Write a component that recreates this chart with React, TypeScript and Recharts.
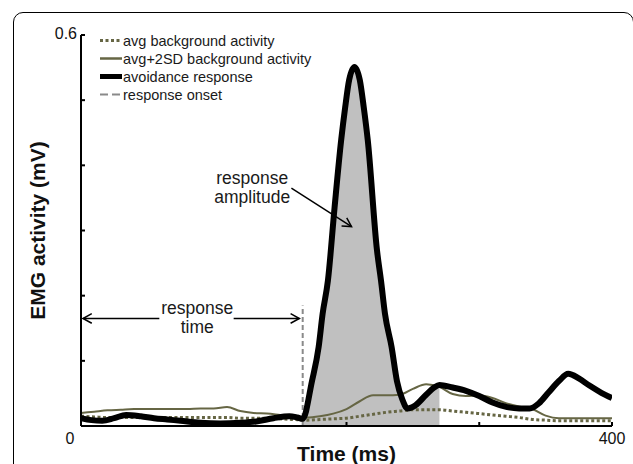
import { ComposedChart, Line, Area, XAxis, YAxis, ReferenceLine, ReferenceDot, Legend, Label } from "recharts"

// avoidance response (mV) sampled at uneven times (ms)
const respTime = [
  0, 8, 16, 25, 34, 45, 55, 65, 75, 90, 105, 120, 132, 145, 157, 163, 167, 174, 179, 182, 186, 191, 196, 199,
  202, 206, 210, 213, 216, 223, 226, 229, 234, 238, 242, 246, 252, 260, 266, 270, 280, 290, 300, 310, 321, 330,
  338, 345, 352, 360, 367, 375, 383, 392, 400,
]
const respValue = [
  0.012, 0.009, 0.008, 0.012, 0.017, 0.015, 0.012, 0.01, 0.008, 0.005, 0.004, 0.005, 0.007, 0.012, 0.015, 0.013,
  0.011, 0.069, 0.121, 0.172, 0.223, 0.335, 0.439, 0.489, 0.531, 0.551, 0.531, 0.489, 0.439, 0.269, 0.223, 0.172,
  0.121, 0.069, 0.041, 0.027, 0.032, 0.048, 0.059, 0.063, 0.059, 0.054, 0.046, 0.036, 0.029, 0.027, 0.027, 0.035,
  0.051, 0.069, 0.08, 0.073, 0.062, 0.051, 0.043,
]

// background activity, every 10 ms
const bgTime = [
  0, 10, 20, 30, 40, 50, 60, 70, 80, 90, 100, 110, 120, 130, 140, 150, 160, 170, 180, 190, 200, 210, 220, 230, 240,
  250, 260, 270, 280, 290, 300, 310, 320, 330, 340, 350, 360, 370, 380, 390, 400,
]
const bgAvg = [
  0.015, 0.014, 0.013, 0.013, 0.013, 0.013, 0.013, 0.013, 0.013, 0.013, 0.013, 0.013, 0.012, 0.012, 0.012, 0.011,
  0.01, 0.009, 0.01, 0.011, 0.012, 0.015, 0.018, 0.021, 0.023, 0.025, 0.025, 0.025, 0.023, 0.021, 0.019, 0.017,
  0.015, 0.013, 0.01, 0.009, 0.008, 0.008, 0.008, 0.008, 0.008,
]
const bgSd = [
  0.02, 0.022, 0.024, 0.025, 0.026, 0.026, 0.026, 0.026, 0.026, 0.027, 0.027, 0.029, 0.023, 0.02, 0.019, 0.017,
  0.015, 0.013, 0.015, 0.019, 0.026, 0.038, 0.047, 0.047, 0.048, 0.057, 0.064, 0.06, 0.049, 0.046, 0.047, 0.043,
  0.035, 0.03, 0.026, 0.016, 0.012, 0.012, 0.012, 0.012, 0.012,
]

const onsetTime = 167
const fillEnd = 270
const onsetTop = 0.185
const rtLevel = 0.165

const xTicks = [0, 100, 200, 300, 400]
const xLabels = [0, 400]
const yTicks = [0, 0.1, 0.2, 0.3, 0.4, 0.5, 0.6]
const yLabels = [0.6]

const legendLabels = ["avg background activity", "avg+2SD background activity", "avoidance response", "response onset"]

const OLIVE = "#666644"
const FONT = "'Liberation Sans', Arial, sans-serif"
const TICK = 4

const response = respTime.map((t, i) => ({ t, v: respValue[i] }))
const filled = response.filter((d) => d.t >= onsetTime && d.t <= fillEnd)
const background = bgTime.map((t, i) => ({ t, avg: bgAvg[i], sd: bgSd[i] }))

const legendStyles = [
  { stroke: OLIVE, width: 3, dash: "3 2.5" },
  { stroke: OLIVE, width: 2.5, dash: undefined },
  { stroke: "#000", width: 5, dash: undefined },
  { stroke: "#8a8a8a", width: 2, dash: "8 4" },
]

const LegendBox = () => (
  <svg width={260} height={80} style={{ display: "block" }}>
    {legendLabels.map((name, i) => {
      const s = legendStyles[i]
      const y = 9.5 + 18 * i
      return (
        <g key={name}>
          <line x1={2} x2={24} y1={y} y2={y} stroke={s.stroke} strokeWidth={s.width} strokeDasharray={s.dash} />
          <text x={25} y={y} dy={5} fontSize={14.5} fontFamily={FONT} fill="#1a1a1a">
            {name}
          </text>
        </g>
      )
    })}
  </svg>
)

// straight line with an open arrow head
const arrow = (head: "start" | "end") => (p: any) => {
  const { x1, y1, x2, y2 } = p
  const [tx, ty, fx, fy] = head === "end" ? [x2, y2, x1, y1] : [x1, y1, x2, y2]
  const a = Math.atan2(ty - fy, tx - fx)
  const L = 10
  const pts = [
    [tx - L * Math.cos(a - 0.5), ty - L * Math.sin(a - 0.5)],
    [tx, ty],
    [tx - L * Math.cos(a + 0.5), ty - L * Math.sin(a + 0.5)],
  ]
  return (
    <g>
      <line x1={x1} y1={y1} x2={x2} y2={y2} stroke="#000" strokeWidth={1.5} />
      <polyline points={pts.map((q) => q.join(",")).join(" ")} fill="none" stroke="#000" strokeWidth={1.5} />
    </g>
  )
}

const twoLines = (a: string, b: string) => (p: any) => (
  <text x={p.cx} y={p.cy} textAnchor="middle" fontSize={17.5} fontFamily={FONT} fill="#1a1a1a">
    <tspan x={p.cx} dy={-4}>{a}</tspan>
    <tspan x={p.cx} dy={19}>{b}</tspan>
  </text>
)

const YTick = (p: any) => {
  if (!yLabels.includes(p.payload.value)) return <g />
  return (
    <text x={p.x - 10} y={p.y} dy={4} textAnchor="end" fontSize={16} fontFamily={FONT} fill="#111">
      {p.payload.value}
    </text>
  )
}

const XTick = (p: any) => {
  const v = p.payload.value
  if (!xLabels.includes(v)) return <g />
  return (
    <text x={v === 0 ? p.x - 11 : p.x} y={p.y + 18} dy={5.5} textAnchor="middle" fontSize={16} fontFamily={FONT} fill="#111">
      {v}
    </text>
  )
}

export default function App() {
  return (
    <div style={{ position: "absolute", left: 0, top: 0, width: 633, height: 464, overflow: "hidden", background: "#fff" }}>
      <div
        style={{
          position: "absolute",
          left: 13,
          top: 12,
          width: 621,
          height: 480,
          border: "1.5px solid #000",
          borderRadius: 10,
          boxSizing: "border-box",
        }}
      />
      <ComposedChart width={633} height={464} margin={{ top: 35, right: 21, bottom: 38, left: 81 }} style={{ position: "absolute", left: 0, top: 0 }}>
        <XAxis
          dataKey="t"
          type="number"
          domain={[0, 400]}
          ticks={xTicks}
          height={1}
          mirror
          tickSize={TICK}
          tick={XTick}
          stroke="#000"
          strokeWidth={2}
          allowDataOverflow
        >
          <Label
            value="Time (ms)"
            position="bottom"
            offset={20}
            style={{ fontSize: 21, fontWeight: "bold", fontFamily: FONT, fill: "#111" }}
          />
        </XAxis>
        <YAxis
          type="number"
          domain={[0, 0.6]}
          ticks={yTicks}
          width={1}
          mirror
          tickSize={TICK}
          tick={YTick}
          stroke="#000"
          strokeWidth={2}
          allowDataOverflow
        >
          <Label
            content={({ viewBox }: any) => {
              const cx = viewBox.x - 36
              const cy = viewBox.y + viewBox.height / 2
              return (
                <text
                  x={cx}
                  y={cy}
                  transform={`rotate(-90 ${cx} ${cy})`}
                  textAnchor="middle"
                  fontSize={21}
                  fontWeight="bold"
                  fontFamily={FONT}
                  fill="#111"
                >
                  EMG activity (mV)
                </text>
              )
            }}
          />
        </YAxis>
        <Legend
          layout="vertical"
          verticalAlign="middle"
          align="center"
          content={LegendBox}
          wrapperStyle={{ position: "absolute", left: 98, top: 31, width: 260, height: 80 }}
        />
        <Area
          data={filled}
          dataKey="v"
          type="monotone"
          fill="#c0c0c0"
          fillOpacity={1}
          stroke="none"
          isAnimationActive={false}
          legendType="none"
        />
        <Line
          data={background}
          dataKey="avg"
          type="monotone"
          stroke={OLIVE}
          strokeWidth={3}
          strokeDasharray="3 2.5"
          dot={false}
          isAnimationActive={false}
        />
        <Line
          data={background}
          dataKey="sd"
          type="monotone"
          stroke={OLIVE}
          strokeWidth={2}
          dot={false}
          isAnimationActive={false}
        />
        <ReferenceLine
          segment={[
            { x: onsetTime, y: 0 },
            { x: onsetTime, y: onsetTop },
          ]}
          stroke="#8a8a8a"
          strokeWidth={2}
          strokeDasharray="5 3"
        />
        <Line
          data={response}
          dataKey="v"
          type="monotone"
          stroke="#000"
          strokeWidth={6}
          strokeLinejoin="round"
          dot={false}
          isAnimationActive={false}
        />
        <ReferenceLine
          segment={[
            { x: 1.5, y: rtLevel },
            { x: 59, y: rtLevel },
          ]}
          shape={arrow("start")}
        />
        <ReferenceLine
          segment={[
            { x: 115, y: rtLevel },
            { x: 164.5, y: rtLevel },
          ]}
          shape={arrow("end")}
        />
        <ReferenceDot x={87.5} y={rtLevel} r={0} shape={twoLines("response", "time")} />
        <ReferenceLine
          segment={[
            { x: 158.5, y: 0.365 },
            { x: 203.8, y: 0.306 },
          ]}
          shape={arrow("end")}
        />
        <ReferenceDot x={129} y={0.365} r={0} shape={twoLines("response", "amplitude")} />
      </ComposedChart>
    </div>
  )
}
